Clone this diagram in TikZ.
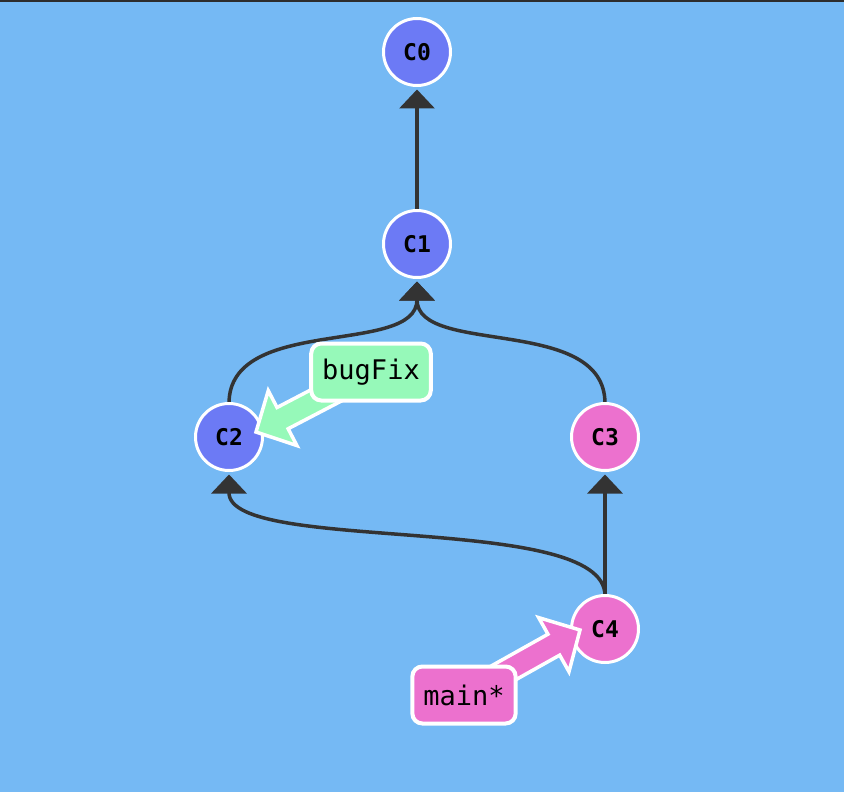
\documentclass[tikz,border=0pt]{standalone}
\usepackage{fontspec}
\setmonofont{DejaVu Sans Mono}
\usetikzlibrary{arrows.meta,calc,backgrounds}

\definecolor{bgblue}{RGB}{117,185,244}
\definecolor{topbar}{RGB}{45,45,45}
\definecolor{edgegray}{RGB}{51,51,51}
\definecolor{commitblue}{RGB}{108,122,245}
\definecolor{commitpink}{RGB}{236,113,206}
\definecolor{branchgreen}{RGB}{150,249,185}

\begin{document}
\begin{tikzpicture}[x=1pt, y=-1pt, >={Triangle[length=19pt,width=35pt]},
	commit/.style={circle, draw=white, line width=3pt, minimum size=67pt, inner sep=0pt, outer sep=4pt, font=\ttfamily\bfseries\fontsize{23}{23}\selectfont},
	edge/.style={->, line width=3.5pt, draw=edgegray, shorten <=-4pt},
	branch/.style={rounded corners=10pt, draw=white, line width=4pt, inner xsep=11pt, inner ysep=0pt, minimum height=57pt, font=\ttfamily\fontsize{27}{27}\selectfont},
	pointer/.style={draw=white, line width=3.5pt, line join=miter}]
	
	% Fix the canvas and paint the background
	\useasboundingbox (0,0) rectangle (844,792);
	\begin{scope}[on background layer]
		\fill[bgblue] (0,0) rectangle (844,792);
		\fill[topbar] (0,0) rectangle (844,2);
	\end{scope}
	
	% Draw the commits
	\foreach \name/\x/\y/\col in {C0/417/52/commitblue, C1/417/244/commitblue, C2/229/437/commitblue, C3/605/437/commitpink, C4/605/629/commitpink}{
		\node[commit, fill=\col] (\name) at (\x,\y) {\name};
	}
	
	% Draw the parent edges (behind the commits)
	\begin{scope}[on background layer]
		\draw[edge] (C1.north) -- (C0.south);
		\draw[edge] (C2.north) .. controls +(0,-85) and +(0,75) .. (C1.south);
		\draw[edge] (C3.north) .. controls +(0,-85) and +(0,75) .. (C1.south);
		\draw[edge] (C4.north) -- (C3.south);
		\draw[edge] (C4.north) .. controls +(0,-80) and +(0,80) .. (C2.south);
	\end{scope}
	
	% Draw the branch pointers and their labels
	\coordinate (bugFixPos) at (371,372);
	\coordinate (mainPos) at (464,695);
	\foreach \br/\target/\dx/\dy/\col/\txt in {bugFix/C2/27/-5/branchgreen/bugFix, main/C4/-25/1/commitpink/main*}{
		\coordinate (\br Tip) at ($(\target.center)+(\dx,\dy)$);
		\coordinate (\br Base) at ($(\br Tip)!30pt!(\br Pos)$);
		\filldraw[pointer, fill=\col] ($(\br Pos)!12pt!90:(\br Tip)$) -- ($(\br Base)!12pt!90:(\br Tip)$) -- ($(\br Base)!31pt!90:(\br Tip)$) -- (\br Tip) -- ($(\br Base)!31pt!-90:(\br Tip)$) -- ($(\br Base)!12pt!-90:(\br Tip)$) -- ($(\br Pos)!12pt!-90:(\br Tip)$) -- cycle;
		\node[branch, fill=\col] (\br) at (\br Pos) {\txt};
	}
	
\end{tikzpicture}
\end{document}
